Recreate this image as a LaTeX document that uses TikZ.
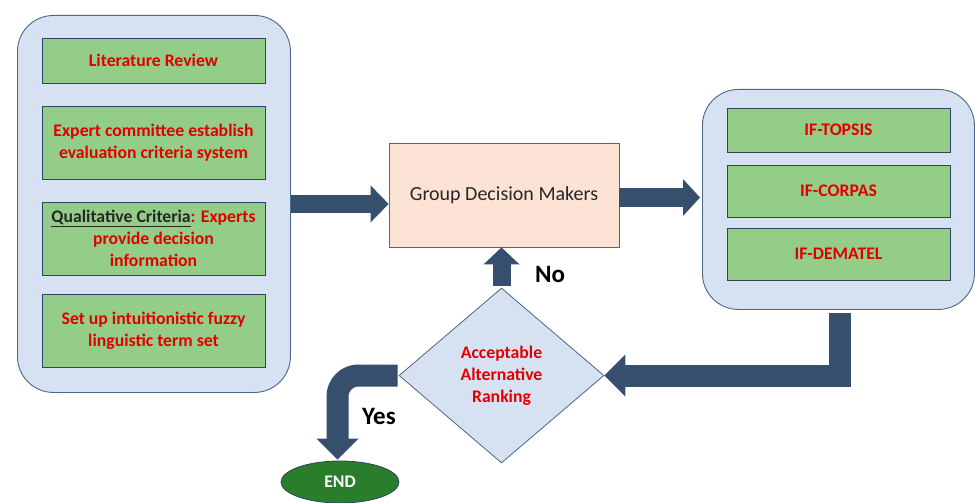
\documentclass[tikz,border=0pt]{standalone}
\usepackage{fontspec}
\setmainfont{Carlito}
\usetikzlibrary{shapes.geometric,calc}
\definecolor{contfill}{HTML}{D6E2F1}
\definecolor{contdraw}{HTML}{4A6688}
\definecolor{boxfill}{HTML}{93CD87}
\definecolor{boxdraw}{HTML}{2A4566}
\definecolor{redtxt}{HTML}{E10000}
\definecolor{arrowc}{HTML}{364F6D}
\definecolor{groupfill}{HTML}{FCE2D4}
\definecolor{endfill}{HTML}{2A7D2A}
\definecolor{darktxt}{HTML}{262626}
\begin{document}
\begin{tikzpicture}[x=1pt,y=-1pt,
  container/.style={draw=contdraw, fill=contfill, rounded corners=36pt, line width=0.9pt, inner sep=0pt, anchor=north west},
  greenbox/.style={draw=boxdraw, fill=boxfill, line width=0.8pt, minimum width=223pt, inner sep=0pt, align=center, font=\fontsize{17.7}{22}\selectfont\bfseries, text=redtxt},
  shaft/.style={draw=arrowc, line width=#1},
  head/.style={fill=arrowc},
  lbl/.style={font=\fontsize{25}{27}\selectfont\bfseries, text=black}
]
\useasboundingbox (0,0) rectangle (975,503);

% containers
\node[container, minimum width=273pt, minimum height=377pt] (L) at (17,15) {};
\node[container, minimum width=272pt, minimum height=220pt] (R) at (702,89) {};

% left boxes
\node[greenbox, minimum height=45pt] (b1) at (153.5,60.5) {Literature Review};
\node[greenbox, minimum height=73pt] (b2) at (153.5,142.5) {Expert committee establish\\evaluation criteria system};
\node[greenbox, minimum height=73pt] (b3) at (153.5,238.5) {\textcolor{darktxt}{\underline{Qualitative Criteria}}: Experts\\provide decision\\information};
\node[greenbox, minimum height=73pt] (b4) at (153.5,330.5) {Set up intuitionistic fuzzy\\linguistic term set};

% right boxes
\node[greenbox, minimum height=44pt] (r1) at (838.5,130) {IF-TOPSIS};
\node[greenbox, minimum height=52pt] (r2) at (838.5,191) {IF-CORPAS};
\node[greenbox, minimum height=52pt] (r3) at (838.5,254) {IF-DEMATEL};

% group decision makers
\node[draw=contdraw, fill=groupfill, line width=0.8pt, minimum width=230pt, minimum height=104pt, inner sep=0pt, font=\fontsize{20}{24}\selectfont, text=darktxt] (G) at (504,195) {Group Decision Makers};

% END
\node[ellipse, draw=boxdraw, fill=endfill, line width=0.8pt, minimum width=118pt, minimum height=42pt, inner sep=0pt, text=white, font=\fontsize{17.7}{20}\selectfont\bfseries] (E) at (340,482) {END};

% arrows
% L -> G
\draw[shaft=18pt] (L.east) -- ($(G.west|-L.east)+(-17,0)$);
\fill[head] ($(G.west|-L.east)+(-18,-18.5)$) -- (G.west|-L.east) -- ($(G.west|-L.east)+(-18,18.5)$) -- cycle;
% G -> R
\coordinate (gr) at ($(R.west|-G.east)+(-2,2.5)$);
\draw[shaft=19pt] ($(G.east)+(0,2.5)$) -- ($(gr)+(-16,0)$);
\fill[head] ($(gr)+(-17,-18.5)$) -- (gr) -- ($(gr)+(-17,18.5)$) -- cycle;

% diamond
\node[diamond, draw=contdraw, fill=contfill, line width=0.8pt, minimum width=205pt, minimum height=175pt, inner sep=0pt, align=center, font=\fontsize{17.7}{22}\selectfont\bfseries, text=redtxt] (D) at (501.5,375.5) {Acceptable\\Alternative\\Ranking};

% R -> D
\draw[shaft=22pt, line join=miter] ($(R.south)+(2,3)$) |- ($(D.east)+(20,0)$);
\fill[head] ($(D.east)+(21,-21)$) -- (D.east) -- ($(D.east)+(21,21)$) -- cycle;
% D -> G (No)
\coordinate (dg) at (D.north|-G.south);
\draw[shaft=18pt] ($(D.north)+(0,-2)$) -- ($(dg)+(0,16)$);
\fill[head] ($(dg)+(-18,17)$) -- (dg) -- ($(dg)+(18,17)$) -- cycle;
% D -> END (Yes)
\coordinate (de) at ($(E.north)+(-2.5,-1)$);
\draw[shaft=22pt, rounded corners=21pt] ($(D.west)+(-1,0)$) -| ($(de)+(0,-20)$);
\fill[head] ($(de)+(-21,-21)$) -- (de) -- ($(de)+(21,-21)$) -- cycle;

% labels
\node[lbl] (no) at (550,274) {No};
\node[lbl] (yes) at (379,416) {Yes};
\end{tikzpicture}
\end{document}
